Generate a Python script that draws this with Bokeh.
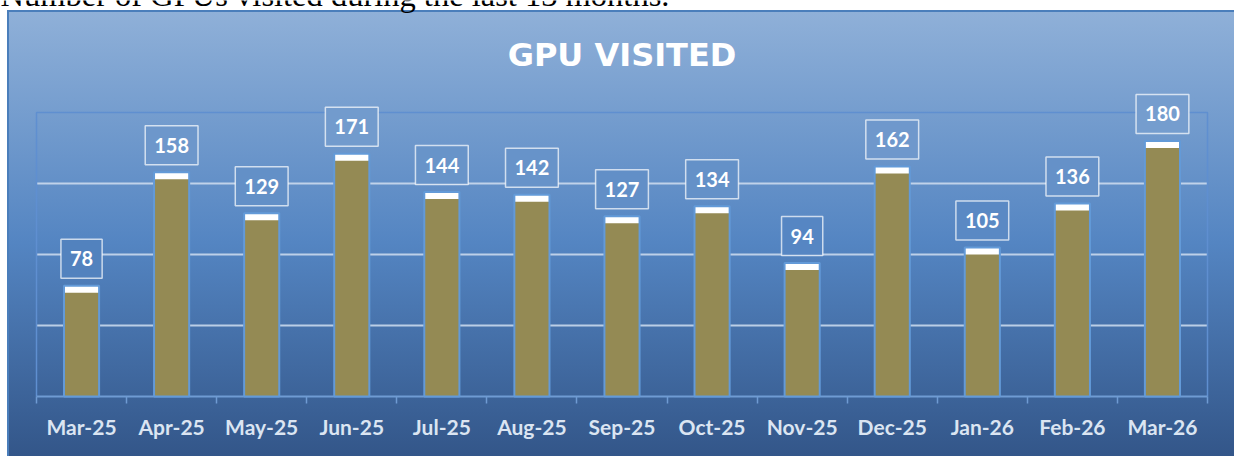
import numpy as np
from bokeh.plotting import figure
from bokeh.models import Range1d, FixedTicker, Label, ColumnDataSource
from bokeh.embed import file_html
from bokeh.resources import INLINE

# ---- data ----
months = ["Mar-25", "Apr-25", "May-25", "Jun-25", "Jul-25", "Aug-25", "Sep-25",
          "Oct-25", "Nov-25", "Dec-25", "Jan-26", "Feb-26", "Mar-26"]
visits = [78, 158, 129, 171, 144, 142, 127, 134, 94, 162, 105, 136, 180]
grid_values = [50, 100, 150]
y_max = 200
title_text = "GPU VISITED"
caption_text = "Number of GPUs visited during the last 13 months."

# ---- layout constants (page pixels) ----
W, H = 1234, 456
AREA_L, AREA_R, AREA_T, AREA_B = 36, 1207, 112, 396   # plot area box
BOTTOM = 58                                          # axis panel height
n = len(months)
ppx = (AREA_R - AREA_L) / n
ppy = (AREA_B - AREA_T) / y_max
x_start = -0.5 - AREA_L / ppx
x_end = n - 0.5 + (W - AREA_R) / ppx
y_start = -(H - BOTTOM - AREA_B) / ppy
y_end = (AREA_B) / ppy
CAP = 7 / ppy

# background gradient (CSS) – also used for label box fills
G_TOP, G_H = 12, H - 12
stops_t = [0.0, 0.52, 1.0]
stops_c = [(143, 176, 216), (84, 133, 194), (51, 86, 137)]


def grad_at(page_y):
    t = (page_y - G_TOP) / G_H
    rgb = [int(round(np.interp(t, stops_t, [c[k] for c in stops_c]))) for k in range(3)]
    return "#%02x%02x%02x" % tuple(rgb)


css_grad = "linear-gradient(180deg, " + ", ".join(
    "rgb(%d,%d,%d) %d%%" % (c[0], c[1], c[2], int(t * 100)) for t, c in zip(stops_t, stops_c)) + ")"

p = figure(width=W, height=H, output_backend="svg", toolbar_location=None,
           x_range=Range1d(x_start, x_end), y_range=Range1d(y_start, y_end),
           min_border_left=0, min_border_right=0,
           min_border_top=0, min_border_bottom=BOTTOM,
           background_fill_alpha=0, border_fill_alpha=0)
p.styles = {
    "background": (css_grad + " 9px 12px / calc(100% - 9px) calc(100% - 12px) no-repeat, "
                   "linear-gradient(#4a7ebb, #4a7ebb) 7px 10px / calc(100% - 7px) calc(100% - 10px) no-repeat, "
                   "#ffffff")
}

p.yaxis.visible = False
p.xgrid.visible = False
p.ygrid.visible = False
p.outline_line_color = None

# grid lines and plot-area box, limited to the category span
p.segment(x0=-0.5, x1=n - 0.5, y0=grid_values, y1=grid_values,
          line_color="#d0def0", line_alpha=0.85, line_width=2)
p.line(x=[-0.5, -0.5, n - 0.5, n - 0.5], y=[0, y_max, y_max, 0],
       line_color="#5f8fd0", line_width=1.5)
p.segment(x0=[-0.5], x1=[n - 0.5], y0=[0], y1=[0],
          line_color="#6f9bd3", line_width=2)

ax = p.xaxis[0]
ax.ticker = FixedTicker(ticks=list(range(n)), minor_ticks=[i - 0.5 for i in range(n + 1)])
ax.major_label_overrides = {i: m for i, m in enumerate(months)}
ax.major_tick_out = 0
ax.major_tick_in = 0
ax.major_tick_line_color = None
ax.minor_tick_out = 5
ax.minor_tick_in = 2
ax.minor_tick_line_color = "#6f9bd3"
ax.minor_tick_line_width = 1.5
ax.axis_line_color = None
ax.major_label_text_font = "Lato"
ax.major_label_text_font_size = "21px"
ax.major_label_text_font_style = "bold"
ax.major_label_text_color = "#dbe5f2"
ax.major_label_standoff = 10

src = ColumnDataSource(dict(x=list(range(n)), top=visits,
                            cap_bottom=[v - CAP for v in visits]))
p.vbar(x="x", top="top", bottom=0, width=0.39, fill_color="#948a54",
       line_color=None, source=src)
p.vbar(x="x", top="top", bottom="cap_bottom", width=0.39, fill_color="#ffffff",
       line_color=None, source=src)
p.vbar(x="x", top="top", bottom=0, width=0.39, fill_color=None,
       line_color="#639ad8", line_width=2, source=src)

LABEL_OFF = 27
for i, v in enumerate(visits):
    cy = AREA_B - v * ppy - LABEL_OFF
    p.add_layout(Label(x=i, y=v, y_offset=LABEL_OFF, text=str(v),
                       text_align="center", text_baseline="middle",
                       text_font="Lato", text_font_size="20px", text_font_style="bold",
                       text_color="#ffffff",
                       border_line_color="#ffffff", border_line_alpha=0.7, border_line_width=1.5,
                       background_fill_color=grad_at(cy),
                       padding=dict(left=9, right=9, top=12, bottom=12)))

p.add_layout(Label(x=(n - 1) / 2, y=y_max, y_offset=AREA_T - 54, text=title_text,
                   text_align="center", text_baseline="alphabetic",
                   text_font="DejaVu Sans", text_font_size="32px", text_font_style="bold",
                   text_color="#ffffff"))

p.add_layout(Label(x=-0.5, x_offset=-AREA_L, y=y_max, y_offset=AREA_T + 6, text=caption_text,
                   text_align="left", text_baseline="alphabetic",
                   text_font="Liberation Serif", text_font_size="32.5px",
                   text_color="#000000"))

open("out.html", "w").write(file_html(p, INLINE))
